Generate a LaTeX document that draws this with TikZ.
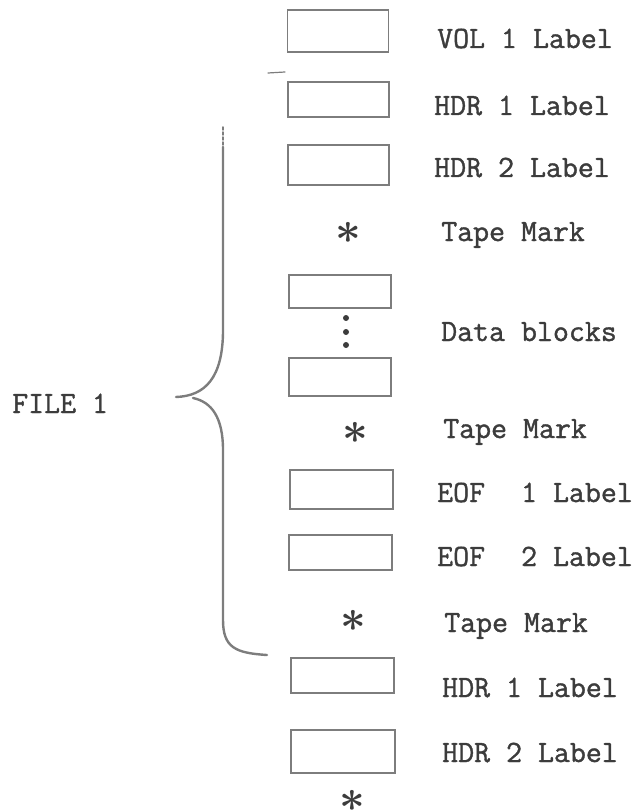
\documentclass[tikz,border=0pt]{standalone}
\usepackage{fontspec}
\newfontfamily\typewriter{Latin Modern Mono}[FakeBold=1.2]
\usepackage{tikz}
\usetikzlibrary{positioning}
\definecolor{inkgray}{RGB}{60, 60, 60}
\definecolor{linegray}{RGB}{125, 125, 125}

\begin{document}
\begin{tikzpicture}[
    x=1pt, y=-1pt,
    tapebox/.style={
        rectangle,
        draw=linegray,
        line width=1.5pt,
        inner sep=0pt,
        minimum width=101pt,
        minimum height=38pt
    },
    labeltext/.style={
        anchor=base west,
        inner sep=0pt,
        text=inkgray,
        font=\typewriter\fontsize{31}{36}\selectfont
    },
    tapemark/.style={
        inner sep=0pt,
        text=inkgray,
        font=\fontsize{24}{24}\selectfont\boldmath
    },
    bracepath/.style={
        draw=linegray,
        line width=2.4pt,
        line cap=round
    }
]
\useasboundingbox (0,0) rectangle (637,810);

% Nodes
\node (vol) [tapebox, minimum height=42pt] at (338,31) {};
\node (hdra) [tapebox, minimum height=35pt] at (338.5,99.5) {};
\node (hdrb) [tapebox, minimum height=40pt] at (338.5,165) {};
\node (tma) [tapemark] at (348,233) {\scalebox{1.8}{$\ast$}};
\node (dataa) [tapebox, minimum width=102pt, minimum height=33pt] at (340,291.5) {};
\node (datab) [tapebox, minimum width=102pt, minimum height=38pt] at (340,377) {};
\node (tmb) [tapemark] at (355,433) {\scalebox{1.8}{$\ast$}};
\node (eofa) [tapebox, minimum width=103pt, minimum height=39pt] at (341.5,489.5) {};
\node (eofb) [tapebox, minimum width=103pt, minimum height=35pt] at (340.5,552.5) {};
\node (tmc) [tapemark] at (353,621) {\scalebox{1.8}{$\ast$}};
\node (hdrc) [tapebox, minimum width=103pt, minimum height=35pt] at (342.5,675.5) {};
\node (hdrd) [tapebox, minimum width=104pt, minimum height=43pt] at (343,751.5) {};
\node (tmd) [tapemark] at (352,801) {\scalebox{1.8}{$\ast$}};

\fill[inkgray] (346,318) circle (3pt);
\fill[inkgray] (346,332) circle (3pt);
\fill[inkgray] (346,345) circle (3pt);

% Labels
\node (volL) [labeltext] at (437,48) {VOL 1 Label};
\node (hdraL) [labeltext] at (434,115) {HDR 1 Label};
\node (hdrbL) [labeltext] at (434,177) {HDR 2 Label};
\node (tmaL) [labeltext] at (441,241) {Tape Mark};
\node (dataL) [labeltext] at (441,341) {Data blocks};
\node (tmbL) [labeltext] at (443,438) {Tape Mark};
\node (eofaL) [labeltext] at (437,502) {EOF\hspace{36pt}1 Label};
\node (eofbL) [labeltext] at (437,566) {EOF\hspace{36pt}2 Label};
\node (tmcL) [labeltext] at (444,632) {Tape Mark};
\node (hdrcL) [labeltext] at (442,697) {HDR 1 Label};
\node (hdrdL) [labeltext] at (442,762) {HDR 2 Label};
\node (file) [labeltext] at (12,413) {FILE 1};

% Brace
\draw [bracepath, line width=1.2pt] (268,73) -- (285,72);
\draw [bracepath, densely dashed, line width=1.5pt] (223,127) -- (223,147);
\draw [bracepath] (223,147) -- (223,330) .. controls (223,378) and (205,396) .. (176,397);
\draw [bracepath] (193,398) .. controls (212,402) and (223,418) .. (223,450) -- (223,620) .. controls (223,648) and (236,653) .. (267,655);

\end{tikzpicture}
\end{document}
